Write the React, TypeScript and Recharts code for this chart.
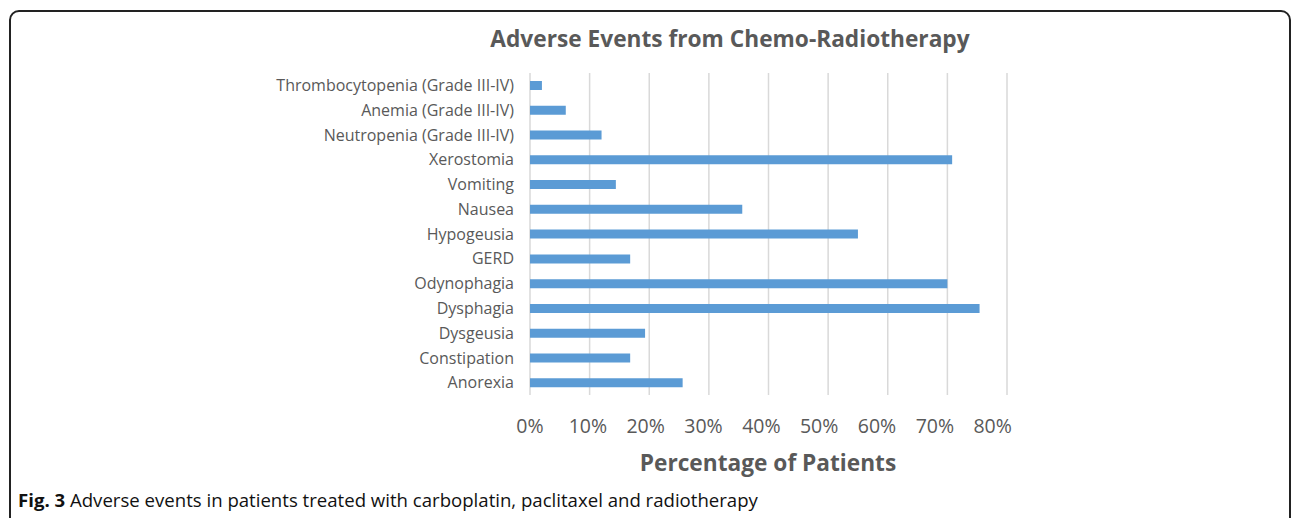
import { BarChart, Bar, XAxis, YAxis, CartesianGrid } from "recharts"

const events = [
  "Thrombocytopenia (Grade III-IV)",
  "Anemia (Grade III-IV)",
  "Neutropenia (Grade III-IV)",
  "Xerostomia",
  "Vomiting",
  "Nausea",
  "Hypogeusia",
  "GERD",
  "Odynophagia",
  "Dysphagia",
  "Dysgeusia",
  "Constipation",
  "Anorexia",
]

const percentages = [0.02, 0.06, 0.12, 0.708, 0.144, 0.356, 0.55, 0.168, 0.70, 0.754, 0.193, 0.168, 0.256]

const xTicks = [0, 0.1, 0.2, 0.3, 0.4, 0.5, 0.6, 0.7, 0.8]

const font = "'Open Sans', 'Noto Sans', sans-serif"
const grey = "#595959"

const XTick = (props: any) => {
  const { x, y, payload } = props
  // excel labels sit a bit tighter than the gridlines
  const lx = 530 + (x - 530) * 0.97
  return (
    <text x={lx} y={y} dy="0.71em" textAnchor="middle" fill={grey} fontSize={19.5} fontFamily={font}>
      {Math.round(payload.value * 100) + "%"}
    </text>
  )
}

export default function App() {
  const data = events.map((name, i) => ({ name, value: percentages[i] }))

  return (
    <div style={{ position: "absolute", left: 0, top: 0, width: 1292, height: 518, overflow: "hidden", background: "#fff", fontFamily: font }}>
      <div
        style={{
          position: "absolute",
          left: 9,
          top: 10,
          width: 1282,
          height: 540,
          border: "2px solid #222",
          borderRadius: 10,
          boxSizing: "border-box",
        }}
      />
      <div style={{ position: "absolute", left: 0, width: 1460, top: 23, textAlign: "center", fontSize: 22.7, fontWeight: 700, color: grey, whiteSpace: "nowrap" }}>
        Adverse Events from Chemo-Radiotherapy
      </div>
      <div style={{ position: "absolute", left: 0, width: 1536, top: 447, textAlign: "center", fontSize: 22.7, fontWeight: 700, color: grey, whiteSpace: "nowrap" }}>
        Percentage of Patients
      </div>
      <div style={{ position: "absolute", left: 18, top: 487, fontSize: 18.6, color: "#111", whiteSpace: "nowrap" }}>
        <b>Fig. 3</b> Adverse events in patients treated with carboplatin, paclitaxel and radiotherapy
      </div>
      <div style={{ position: "absolute", left: 0, top: 0 }}>
        <BarChart
          width={1292}
          height={518}
          data={data}
          layout="vertical"
          margin={{ top: 73, right: 285, bottom: 63, left: 0 }}
        >
          <CartesianGrid horizontal={false} stroke="#d9d9d9" strokeWidth={1.5} />
          <XAxis
            type="number"
            domain={[0, 0.8]}
            ticks={xTicks}
            axisLine={false}
            tickLine={false}
            tickSize={0}
            tickMargin={24}
            height={60}
            tick={<XTick />}
            interval={0}
          />
          <YAxis
            type="category"
            dataKey="name"
            width={530}
            axisLine={false}
            tickLine={false}
            tickSize={0}
            tickMargin={16}
            interval={0}
            tick={{ fill: grey, fontSize: 16, fontFamily: font }}
          />
          <Bar dataKey="value" fill="#5b9bd5" barSize={9} isAnimationActive={false} />
        </BarChart>
      </div>
    </div>
  )
}
